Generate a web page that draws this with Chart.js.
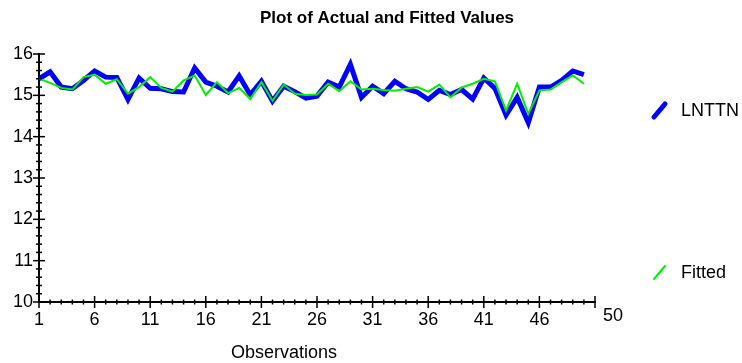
<!DOCTYPE html>
<html>
<head>
<meta charset="utf-8">
<script src="https://cdn.jsdelivr.net/npm/chart.js@4.4.1/dist/chart.umd.min.js"></script>
<style>
  html, body { margin: 0; padding: 0; background: #fff; }
  #wrap { width: 742px; height: 363px; }
</style>
</head>
<body>
<div id="wrap"><canvas id="fitChart" width="742" height="363"></canvas></div>
<script>
// observation numbers
const observations = [1, 2, 3, 4, 5, 6, 7, 8, 9, 10, 11, 12, 13, 14, 15, 16, 17, 18, 19, 20,
  21, 22, 23, 24, 25, 26, 27, 28, 29, 30, 31, 32, 33, 34, 35, 36, 37, 38, 39, 40,
  41, 42, 43, 44, 45, 46, 47, 48, 49, 50];

// actual values (LNTTN)
const lnttn = [15.40, 15.57, 15.20, 15.16, 15.36, 15.59, 15.44, 15.43, 14.90, 15.42,
  15.17, 15.16, 15.09, 15.08, 15.66, 15.32, 15.22, 15.08, 15.47, 15.01,
  15.34, 14.86, 15.22, 15.09, 14.93, 14.98, 15.32, 15.20, 15.75, 14.95,
  15.22, 15.04, 15.34, 15.16, 15.08, 14.90, 15.12, 15.02, 15.14, 14.91,
  15.42, 15.17, 14.52, 14.95, 14.34, 15.20, 15.20, 15.36, 15.59, 15.50];

// fitted values
const fitted = [15.40, 15.30, 15.18, 15.14, 15.44, 15.50, 15.28, 15.39, 15.04, 15.20,
  15.44, 15.18, 15.09, 15.36, 15.48, 15.01, 15.32, 15.05, 15.18, 14.91,
  15.32, 14.87, 15.26, 15.04, 15.01, 15.02, 15.28, 15.10, 15.34, 15.14,
  15.16, 15.13, 15.11, 15.16, 15.20, 15.09, 15.26, 14.95, 15.19, 15.28,
  15.40, 15.34, 14.63, 15.28, 14.55, 15.12, 15.14, 15.32, 15.48, 15.28];

// labelled ticks
const xMajorTicks = [1, 6, 11, 16, 21, 26, 31, 36, 41, 46];
const yMajorTicks = [10, 11, 12, 13, 14, 15, 16];
const xEndLabel = "50";

const FONT = "'Liberation Sans', Arial, sans-serif";

const toPoints = (ys) => ys.map((v, i) => ({ x: observations[i], y: v }));

// title, legend, tick marks, end label
const extras = {
  id: "extras",
  afterDraw(chart) {
    const { ctx, scales: { x, y } } = chart;
    ctx.save();

    // tick marks crossing the axes
    ctx.strokeStyle = "#000";
    ctx.lineWidth = 1.5;
    const axisY = y.getPixelForValue(y.min);
    x.ticks.forEach((t) => {
      const px = x.getPixelForValue(t.value);
      const len = (xMajorTicks.includes(t.value) || t.value === x.max) ? 6 : 2.5;
      ctx.beginPath();
      ctx.moveTo(px, axisY - len);
      ctx.lineTo(px, axisY + len);
      ctx.stroke();
    });
    const axisX = x.getPixelForValue(x.min);
    y.ticks.forEach((t) => {
      const py = y.getPixelForValue(t.value);
      const major = yMajorTicks.some((m) => Math.abs(m - t.value) < 1e-6);
      const len = major ? 6 : 3;
      ctx.beginPath();
      ctx.moveTo(axisX - len, py);
      ctx.lineTo(axisX + len, py);
      ctx.stroke();
    });

    ctx.fillStyle = "#000";
    ctx.textBaseline = "middle";

    // title
    ctx.font = "bold 17px " + FONT;
    ctx.textAlign = "center";
    ctx.fillText("Plot of Actual and Fitted Values", 387, 18);

    // end label of x axis
    ctx.font = "18px " + FONT;
    ctx.fillText(xEndLabel, x.right + 18, 316);

    // axis title
    ctx.fillText("Observations", 284, 353);

    // legend
    const items = [
      { ds: chart.data.datasets[0], y: 111 },
      { ds: chart.data.datasets[1], y: 273 },
    ];
    ctx.textAlign = "left";
    items.forEach((it) => {
      ctx.strokeStyle = it.ds.borderColor;
      ctx.lineWidth = it.ds.borderWidth;
      ctx.lineCap = "round";
      ctx.beginPath();
      ctx.moveTo(654, it.y + 6);
      ctx.lineTo(665, it.y - 7);
      ctx.stroke();
      ctx.fillText(it.ds.label, 681, it.y);
    });

    ctx.restore();
  },
};

new Chart(document.getElementById("fitChart").getContext("2d"), {
  type: "line",
  data: {
    datasets: [
      {
        label: "LNTTN",
        data: toPoints(lnttn),
        borderColor: "#0000ff",
        borderWidth: 5,
        pointRadius: 0,
        tension: 0,
        order: 2,
      },
      {
        label: "Fitted",
        data: toPoints(fitted),
        borderColor: "#00f000",
        borderWidth: 2,
        pointRadius: 0,
        tension: 0,
        order: 1,
      },
    ],
  },
  options: {
    responsive: false,
    devicePixelRatio: 1,
    animation: false,
    layout: {
      padding: { top: 54, right: 147, left: 0, bottom: 0 },
    },
    plugins: {
      legend: { display: false },
      tooltip: { enabled: false },
      title: { display: false },
    },
    scales: {
      x: {
        type: "linear",
        min: 1,
        max: 51,
        afterBuildTicks: (scale) => {
          const ticks = [];
          for (let v = 1; v <= 51; v++) ticks.push({ value: v });
          scale.ticks = ticks;
        },
        afterFit: (scale) => {
          scale.height = 61;
        },
        grid: { display: false, drawTicks: false },
        border: { display: true, color: "#000", width: 2 },
        ticks: {
          autoSkip: false,
          maxRotation: 0,
          padding: 7,
          color: "#000",
          font: { family: FONT, size: 18 },
          callback: (v) => (xMajorTicks.includes(v) ? String(v) : ""),
        },
      },
      y: {
        min: 10,
        max: 16,
        afterFit: (scale) => {
          scale.width = 39;
        },
        grid: { display: false, drawTicks: false },
        border: { display: true, color: "#000", width: 2 },
        ticks: {
          stepSize: 0.2,
          autoSkip: false,
          padding: 6,
          color: "#000",
          font: { family: FONT, size: 18 },
          callback: (v) => {
            const m = yMajorTicks.find((t) => Math.abs(t - v) < 1e-6);
            return m === undefined ? "" : String(m);
          },
        },
      },
    },
  },
  plugins: [extras],
});
</script>
</body>
</html>
